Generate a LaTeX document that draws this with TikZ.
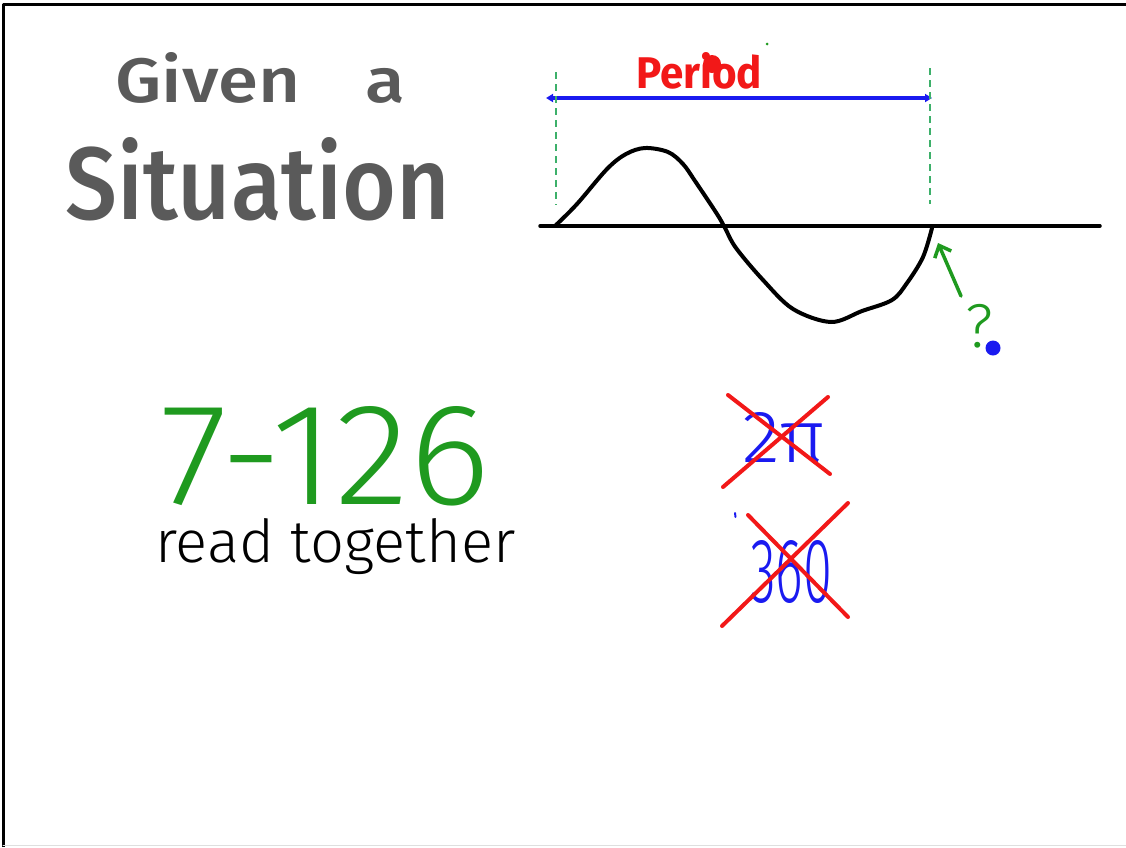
\documentclass[tikz,border=0pt]{standalone}
\usepackage{fontspec}
\setmainfont{Fira Sans}
\newfontfamily\penfont{Fira Sans Light}
\newfontfamily\chalkfont{Fira Sans Medium}
\usetikzlibrary{arrows.meta, positioning}
\definecolor{cgreen}{HTML}{1F9A1F}
\definecolor{cdash}{HTML}{3DB06A}
\definecolor{cred}{HTML}{F21818}
\definecolor{cblue}{HTML}{1A1AF0}
\definecolor{cgrey}{HTML}{5A5A5A}
\tikzset{
  every picture/.style={line cap=round, line join=round},
  hand/.style={text=#1, inner sep=0pt, anchor=base west, font=\penfont},
  hand/.default=black,
  cross/.style={draw=cred, line width=4pt},
  guide/.style={draw=cdash, dash pattern=on 7pt off 5pt, line width=1.5pt, line cap=butt},
  span/.style={{Triangle[length=7pt, width=8pt]}-{Triangle[length=7pt, width=8pt]}, draw=cblue, line width=3.5pt},
}

\begin{document}
\begin{tikzpicture}[x=1pt, y=-1pt,
  wave/.style={draw=black, line width=4pt},
  axis/.style={draw=black, line width=3.5pt},
  smudge/.style={text=cgrey, inner sep=0pt, anchor=base west, font=\chalkfont},
  pointer/.style={-{Straight Barb[length=10pt, width=18pt]}, draw=cgreen, line width=3.5pt}]
  \useasboundingbox (0,0) rectangle (1126,847);
  % frame
  \draw[line width=3pt, line cap=butt] (3,847) -- (3,4) -- (1126,4);
  \draw[gray!25, line width=1pt] (3,845.5) -- (1126,845.5);
  % title
  \node[smudge] (given) at (115,102) {\resizebox{290pt}{50pt}{Given\hspace{0.9em}a}};
  \node[smudge] (situation) at (65,219) {\resizebox{385pt}{82pt}{Situation}};
  % period
  \coordinate (pl) at (546,98);
  \coordinate (pr) at (932,98);
  \draw[span] (pl) -- (pr);
  \node[hand=cred, font=\bfseries] (period) at (636,88) {\resizebox{126pt}{36pt}{Period}};
  \fill[cred] (712,64) circle (9);
  \fill[cgreen] (767,44) circle (1.5);
  \coordinate (g1a) at (556,72);  \coordinate (g1b) at (556,205);
  \coordinate (g2a) at (930,68);  \coordinate (g2b) at (930,204);
  \draw[guide] (g1a) -- (g1b);
  \draw[guide] (g2a) -- (g2b);
  % graph
  \coordinate (ax0) at (540,226);
  \coordinate (ax1) at (1100,226);
  \draw[axis] (ax0) -- (ax1);
  \draw[wave] plot[smooth, tension=0.55] coordinates {(556,225) (577,204) (607,169) (626,154) (645,148) (668,152) (683,164) (695,181) (717,214) (725,228) (736,248) (763,280) (793,309) (831,322) (862,311) (892,300) (907,283) (923,257) (932,228)};
  % question
  \coordinate (q0) at (961,296);
  \coordinate (q1) at (938,243);
  \draw[pointer] (q0) -- (q1);
  \node[text=cgreen, font=\penfont\fontsize{62}{62}\selectfont, inner sep=0pt] (ask) at (979,326) {?};
  \fill[cblue] (993,348) circle (7.5);
  % exercise
  \node[hand=cgreen] (exercise) at (160,504) {\resizebox{330pt}{98pt}{7-126}};
  \node[hand] (read) at (155,562) {\resizebox{360pt}{44pt}{read together}};
  % crossed out
  \node[hand=cblue] (twopi) at (742,462) {\resizebox{83pt}{50pt}{2π}};
  \draw[cross] (723,487) -- (828,397);
  \draw[cross] (728,395) -- (830,474);
  \node[hand=cblue] (deg) at (750,602) {\resizebox{82pt}{62pt}{360}};
  \draw[cblue, line width=2pt] (735,513) -- (735.5,517);
  \draw[cross] (722,626) -- (848,503);
  \draw[cross] (748,515) -- (848,617);
\end{tikzpicture}
\end{document}
